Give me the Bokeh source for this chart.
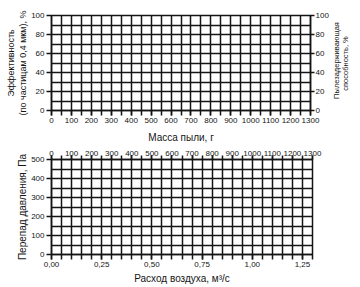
import math
from bokeh.plotting import figure
from bokeh.layouts import column, row
from bokeh.models import LinearAxis, Range1d, FixedTicker
from bokeh.core.properties import value
from bokeh.embed import file_html
from bokeh.resources import INLINE

# ---- data: top panel (efficiency / dust-holding vs dust mass) ----
mass_ticks = [0, 100, 200, 300, 400, 500, 600, 700, 800, 900, 1000, 1100, 1200, 1300]
mass_grid = [0, 50, 100, 150, 200, 250, 300, 350, 400, 450, 500, 550, 600, 650,
             700, 750, 800, 850, 900, 950, 1000, 1050, 1100, 1150, 1200, 1250, 1300]
pct_ticks = [0, 20, 40, 60, 80, 100]
pct_grid = [0, 10, 20, 30, 40, 50, 60, 70, 80, 90, 100]

# ---- data: bottom panel (pressure drop vs air flow) ----
flow_ticks = [0.0, 0.25, 0.5, 0.75, 1.0, 1.25]
flow_tick_labels = ["0,00", "0,25", "0,50", "0,75", "1,00", "1,25"]
flow_grid = [0.0, 0.05, 0.1, 0.15, 0.2, 0.25, 0.3, 0.35, 0.4, 0.45, 0.5, 0.55, 0.6, 0.65,
             0.7, 0.75, 0.8, 0.85, 0.9, 0.95, 1.0, 1.05, 1.1, 1.15, 1.2, 1.25, 1.3]
dp_ticks = [0, 100, 200, 300, 400, 500]
dp_grid = [0, 50, 100, 150, 200, 250, 300, 350, 400, 450, 500]

left_title = "Эффективность\n(по частицам 0,4 мкм), %"
right_title_lines = ["Пылезадерживающая", "способность, %"]

FONT = "Liberation Sans"
INK = "#151515"
LW = 1.5


def style_axis(ax, ticker, label=None, standoff=0):
    ax.ticker = ticker
    ax.axis_line_color = INK
    ax.axis_line_width = LW
    ax.major_tick_line_color = INK
    ax.major_tick_line_width = LW
    ax.minor_tick_line_color = INK
    ax.minor_tick_line_width = LW
    ax.major_tick_in = 0
    ax.major_tick_out = 5
    ax.minor_tick_in = 0
    ax.minor_tick_out = 5
    ax.major_label_standoff = 2
    ax.major_label_text_font = FONT
    ax.major_label_text_font_size = "8px"
    ax.major_label_text_color = INK
    ax.axis_label_text_font = FONT
    ax.axis_label_text_font_size = "10px"
    ax.axis_label_text_font_style = "normal"
    ax.axis_label_text_color = INK
    ax.axis_label_standoff = standoff
    if label is not None:
        ax.axis_label = label


def style_grid(p, xg, yg):
    p.xgrid.ticker = FixedTicker(ticks=xg)
    p.ygrid.ticker = FixedTicker(ticks=yg)
    for g in (p.xgrid, p.ygrid):
        g.grid_line_color = INK
        g.grid_line_width = LW
        g.grid_line_alpha = 1.0
    p.outline_line_color = INK
    p.outline_line_width = LW
    p.background_fill_color = "white"
    p.border_fill_color = "white"


TOP_H = 145

# ---------------- top figure ----------------
p1 = figure(width=331, height=TOP_H, x_range=Range1d(0, 1300), y_range=Range1d(0, 100),
            output_backend="svg", toolbar_location=None,
            min_border_left=51, min_border_right=19, min_border_top=15, min_border_bottom=33)
style_grid(p1, mass_grid, pct_grid)
style_axis(p1.xaxis[0], FixedTicker(ticks=mass_ticks, minor_ticks=mass_grid), "Масса пыли, г",
           standoff=6)
style_axis(p1.yaxis[0], FixedTicker(ticks=pct_ticks, minor_ticks=[]), left_title, standoff=0)
p1.yaxis[0].axis_label_text_font_size = "9px"
ax_r = LinearAxis()
style_axis(ax_r, FixedTicker(ticks=pct_ticks, minor_ticks=[]))
ax_r.major_tick_out = 4
ax_r.major_label_standoff = 1
p1.add_layout(ax_r, "right")

# right strip: two-line title of the right axis (reads bottom-to-top)
right = figure(width=29, height=TOP_H, x_range=Range1d(0, 29), y_range=Range1d(0, TOP_H),
               output_backend="svg", toolbar_location=None,
               x_axis_location=None, y_axis_location=None,
               min_border=0, min_border_left=0, min_border_right=0,
               min_border_top=0, min_border_bottom=0)
right.grid.visible = False
right.outline_line_color = None
right.background_fill_color = "white"
right.border_fill_color = "white"
right.text(x=[5, 14], y=[TOP_H - 60, TOP_H - 63], text=right_title_lines, angle=math.pi / 2,
           text_align="center", text_baseline="middle",
           text_font=value(FONT), text_font_size="7.5px", text_color=INK)

# ---------------- bottom figure ----------------
p2 = figure(width=360, height=142, x_range=Range1d(0, 1.3), y_range=Range1d(0, 500),
            output_backend="svg", toolbar_location=None,
            min_border_left=51, min_border_right=48, min_border_top=14, min_border_bottom=33)
p2.extra_x_ranges = {"mass": Range1d(0, 1300)}
style_grid(p2, flow_grid, dp_grid)
style_axis(p2.xaxis[0], FixedTicker(ticks=flow_ticks, minor_ticks=flow_grid),
           "Расход воздуха, м³/с", standoff=3)
p2.xaxis[0].major_label_overrides = {t: s for t, s in zip(flow_ticks, flow_tick_labels)}
style_axis(p2.yaxis[0], FixedTicker(ticks=dp_ticks, minor_ticks=[]), "Перепад давления, Па",
           standoff=0)
ax_t = LinearAxis(x_range_name="mass")
style_axis(ax_t, FixedTicker(ticks=mass_ticks, minor_ticks=mass_grid))
ax_t.major_tick_out = 4
ax_t.minor_tick_out = 4
ax_t.major_label_standoff = 0
p2.add_layout(ax_t, "above")

layout = column(row(p1, column(right), spacing=0), p2, spacing=0)
open("out.html", "w").write(file_html(layout, INLINE))
